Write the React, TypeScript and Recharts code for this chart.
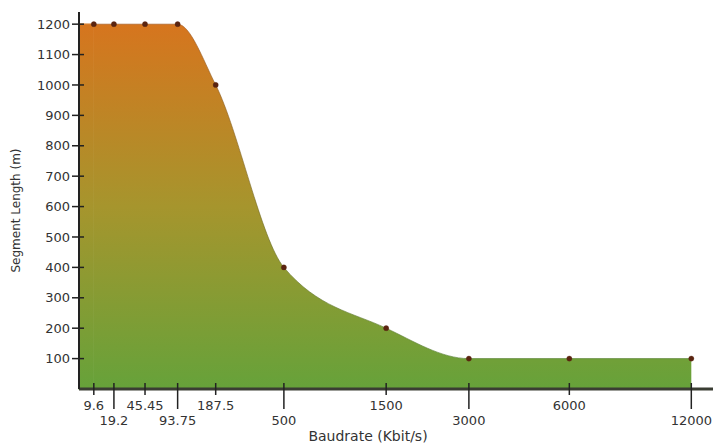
import React from 'react';
import { AreaChart, Area, XAxis, YAxis, ReferenceArea, Label } from 'recharts';

// ---- data ----
const baudrates = [9.6, 19.2, 45.45, 93.75, 187.5, 500, 1500, 3000, 6000, 12000];
const baudLabels = ['9.6', '19.2', '45.45', '93.75', '187.5', '500', '1500', '3000', '6000', '12000'];
const segmentLengths = [1200, 1200, 1200, 1200, 1000, 400, 200, 100, 100, 100];
const yTicks = [100, 200, 300, 400, 500, 600, 700, 800, 900, 1000, 1100, 1200];

const data = baudrates.map((b, i) => ({ baud: b, length: segmentLengths[i] }));

// ---- axis configuration ----
const X_EXPONENT = 0.28;
const X_DOMAIN: [number, number] = [5.2, 13400];
const Y_DOMAIN: [number, number] = [0, 1240];
const FONT = '"DejaVu Sans", Verdana, sans-serif';
const TEXT = '#333';

// a d3-like power scale with a custom exponent
function makePowScale(exponent: number): any {
  let dom: number[] = [0, 1];
  let rng: number[] = [0, 1];
  const f = (v: number) => Math.sign(v) * Math.pow(Math.abs(v), exponent);
  const fi = (u: number) => Math.sign(u) * Math.pow(Math.abs(u), 1 / exponent);
  const scale: any = (v: any) => {
    const n = Number(v);
    const a = f(dom[0]);
    const b = f(dom[dom.length - 1]);
    const t = (f(n) - a) / (b - a);
    return rng[0] + t * (rng[rng.length - 1] - rng[0]);
  };
  scale.domain = (d?: any) => {
    if (d === undefined) return dom.slice();
    dom = Array.from(d as ArrayLike<any>, Number);
    return scale;
  };
  scale.range = (r?: any) => {
    if (r === undefined) return rng.slice();
    rng = Array.from(r as ArrayLike<any>, Number);
    return scale;
  };
  scale.invert = (px: number) => {
    const a = f(dom[0]);
    const b = f(dom[dom.length - 1]);
    const t = (px - rng[0]) / (rng[rng.length - 1] - rng[0]);
    return fi(a + t * (b - a));
  };
  scale.copy = () => makePowScale(exponent).domain(dom).range(rng);
  scale.ticks = (count: number = 10) => {
    const lo = dom[0];
    const hi = dom[dom.length - 1];
    const step = (hi - lo) / Math.max(1, count);
    const out: number[] = [];
    for (let i = 0; i <= count; i++) out.push(lo + i * step);
    return out;
  };
  scale.tickFormat = () => (v: any) => String(v);
  scale.nice = () => scale;
  scale.clamp = () => scale;
  scale.exponent = () => exponent;
  return scale;
}

const xScale = makePowScale(X_EXPONENT);

const XTick = (props: any) => {
  const { x, y, payload, index } = props;
  const lower = index % 2 === 1;
  const i = baudrates.indexOf(Number(payload.value));
  const label = i >= 0 ? baudLabels[i] : String(payload.value);
  return (
    <g>
      <line x1={x} x2={x} y1={y - 6} y2={y + (lower ? 20 : 6)} stroke="#222" strokeWidth={1.5} />
      <text
        x={x}
        y={y + (lower ? 36 : 21)}
        textAnchor="middle"
        fontSize={13}
        fontFamily={FONT}
        fill={TEXT}
      >
        {label}
      </text>
    </g>
  );
};

const YTick = (props: any) => {
  const { x, y, payload } = props;
  return (
    <g>
      <line x1={x - 7} x2={x + 5} y1={y} y2={y} stroke="#222" strokeWidth={1.5} />
      <text
        x={x - 9}
        y={y}
        dy="0.36em"
        textAnchor="end"
        fontSize={13}
        fontFamily={FONT}
        fill={TEXT}
      >
        {payload.value}
      </text>
    </g>
  );
};

const XLabel = (props: any) => {
  const vb = props.viewBox || { x: 0, y: 0, width: 0, height: 0 };
  const cx = vb.x + vb.width / 2 - 28;
  const cy = vb.y + vb.height - 4;
  return (
    <text x={cx} y={cy} textAnchor="middle" fontSize={14} fontFamily={FONT} fill={TEXT}>
      Baudrate (Kbit/s)
    </text>
  );
};

const YLabel = (props: any) => {
  const vb = props.viewBox || { x: 0, y: 0, width: 0, height: 0 };
  const cx = vb.x + 16;
  const cy = vb.y + vb.height / 2 + 10;
  return (
    <text
      x={cx}
      y={cy}
      transform={`rotate(-90, ${cx}, ${cy})`}
      textAnchor="middle"
      dominantBaseline="central"
      fontSize={12}
      fontFamily={FONT}
      fill={TEXT}
    >
      Segment Length (m)
    </text>
  );
};

export default function App() {
  return (
    <div style={{ position: 'absolute', left: 0, top: 0, width: 713, height: 445, background: '#fff' }}>
      <AreaChart
        width={713}
        height={445}
        data={data}
        margin={{ top: 12, right: 0, bottom: 0, left: 0 }}
      >
        <defs>
          <linearGradient id="fillGrad" x1="0" y1="0" x2="0" y2="1">
            <stop offset="0%" stopColor="#d6751e" />
            <stop offset="50%" stopColor="#a6952d" />
            <stop offset="100%" stopColor="#66a23a" />
          </linearGradient>
          <linearGradient id="edgeGrad" x1="0" y1="0" x2="0" y2="1">
            <stop offset="0%" stopColor="#9a4e14" />
            <stop offset="100%" stopColor="#4f7a2a" />
          </linearGradient>
        </defs>
        <XAxis
          dataKey="baud"
          type="number"
          scale={xScale}
          domain={X_DOMAIN}
          allowDataOverflow
          ticks={baudrates}
          interval={0}
          height={56}
          tickSize={0}
          tickMargin={0}
          tick={<XTick />}
          axisLine={{ stroke: '#3a3d33', strokeWidth: 3 }}
          tickLine={false}
        >
          <Label content={<XLabel />} />
        </XAxis>
        <YAxis
          type="number"
          domain={Y_DOMAIN}
          allowDataOverflow
          ticks={yTicks}
          interval={0}
          width={79}
          tickSize={0}
          tickMargin={0}
          tick={<YTick />}
          axisLine={{ stroke: '#222', strokeWidth: 2 }}
          tickLine={false}
        >
          <Label content={<YLabel />} />
        </YAxis>
        <ReferenceArea
          x1={X_DOMAIN[0]}
          x2={baudrates[0]}
          y1={0}
          y2={segmentLengths[0]}
          fill="url(#fillGrad)"
          fillOpacity={1}
          stroke="url(#fillGrad)"
          strokeWidth={1.2}
          ifOverflow="visible"
        />
        <Area
          type="monotone"
          dataKey="length"
          baseValue={0}
          stroke="url(#edgeGrad)"
          strokeWidth={1}
          strokeOpacity={0.6}
          fill="url(#fillGrad)"
          fillOpacity={1}
          dot={{ r: 2.6, fill: '#5a2410', stroke: '#5a2410', strokeWidth: 0.5 }}
          activeDot={false}
          isAnimationActive={false}
        />
      </AreaChart>
    </div>
  );
}
